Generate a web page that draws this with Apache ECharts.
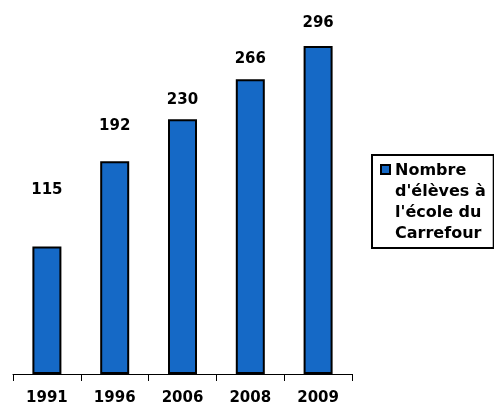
<!DOCTYPE html>
<html>
<head>
<meta charset="utf-8">
<script src="https://cdn.jsdelivr.net/npm/echarts@6/dist/echarts.min.js"></script>
<style>html,body{margin:0;padding:0;background:#fff}#c{width:494px;height:407px}</style>
</head>
<body>
<div id="c"></div>
<script>
var categories = ['1991', '1996', '2006', '2008', '2009'];
var values = [115, 192, 230, 266, 296];
var seriesName = "Nombre d'élèves à l'école du Carrefour";
var legendLines = ['Nombre', "d'élèves à", "l'école du", 'Carrefour'];

var FONT = '"DejaVu Sans", sans-serif';
var labelDistances = [49, 28, 12, 13, 15];

var chart = echarts.init(document.getElementById('c'), null, {renderer: 'canvas'});
chart.setOption({
  animation: false,
  backgroundColor: '#ffffff',
  grid: {left: 13, right: 142, top: 41.6, bottom: 33, containLabel: false},
  legend: {
    data: [seriesName],
    left: 372, top: 155,
    orient: 'vertical',
    padding: [4, 8, 3, 8],
    borderColor: '#000', borderWidth: 2,
    itemWidth: 9, itemHeight: 84,
    icon: 'path://M0,0 M0,84 M0,5 L9,5 L9,14 L0,14 Z',
    formatter: function () { return legendLines.join('\n'); },
    textStyle: {fontFamily: FONT, fontWeight: 'bold', fontSize: 16, color: '#000', lineHeight: 21}
  },
  xAxis: {
    type: 'category', data: categories,
    axisLine: {lineStyle: {color: '#000', width: 1}},
    axisTick: {show: true, length: 7, lineStyle: {color: '#000'}},
    axisLabel: {fontFamily: FONT, fontWeight: 'bold', fontSize: 15, color: '#000', margin: 17}
  },
  yAxis: {type: 'value', min: 0, max: 300, show: false, splitLine: {show: false}},
  series: [{
    name: seriesName, type: 'bar', barWidth: 29,
    itemStyle: {color: '#1569c6', borderColor: '#000', borderWidth: 2},
    data: values.map(function (v, i) {
      return {value: v, label: {distance: labelDistances[i]}};
    }),
    label: {show: true, position: 'top', fontFamily: FONT, fontWeight: 'bold', fontSize: 15, color: '#000'}
  }]
});
</script>
</body>
</html>
